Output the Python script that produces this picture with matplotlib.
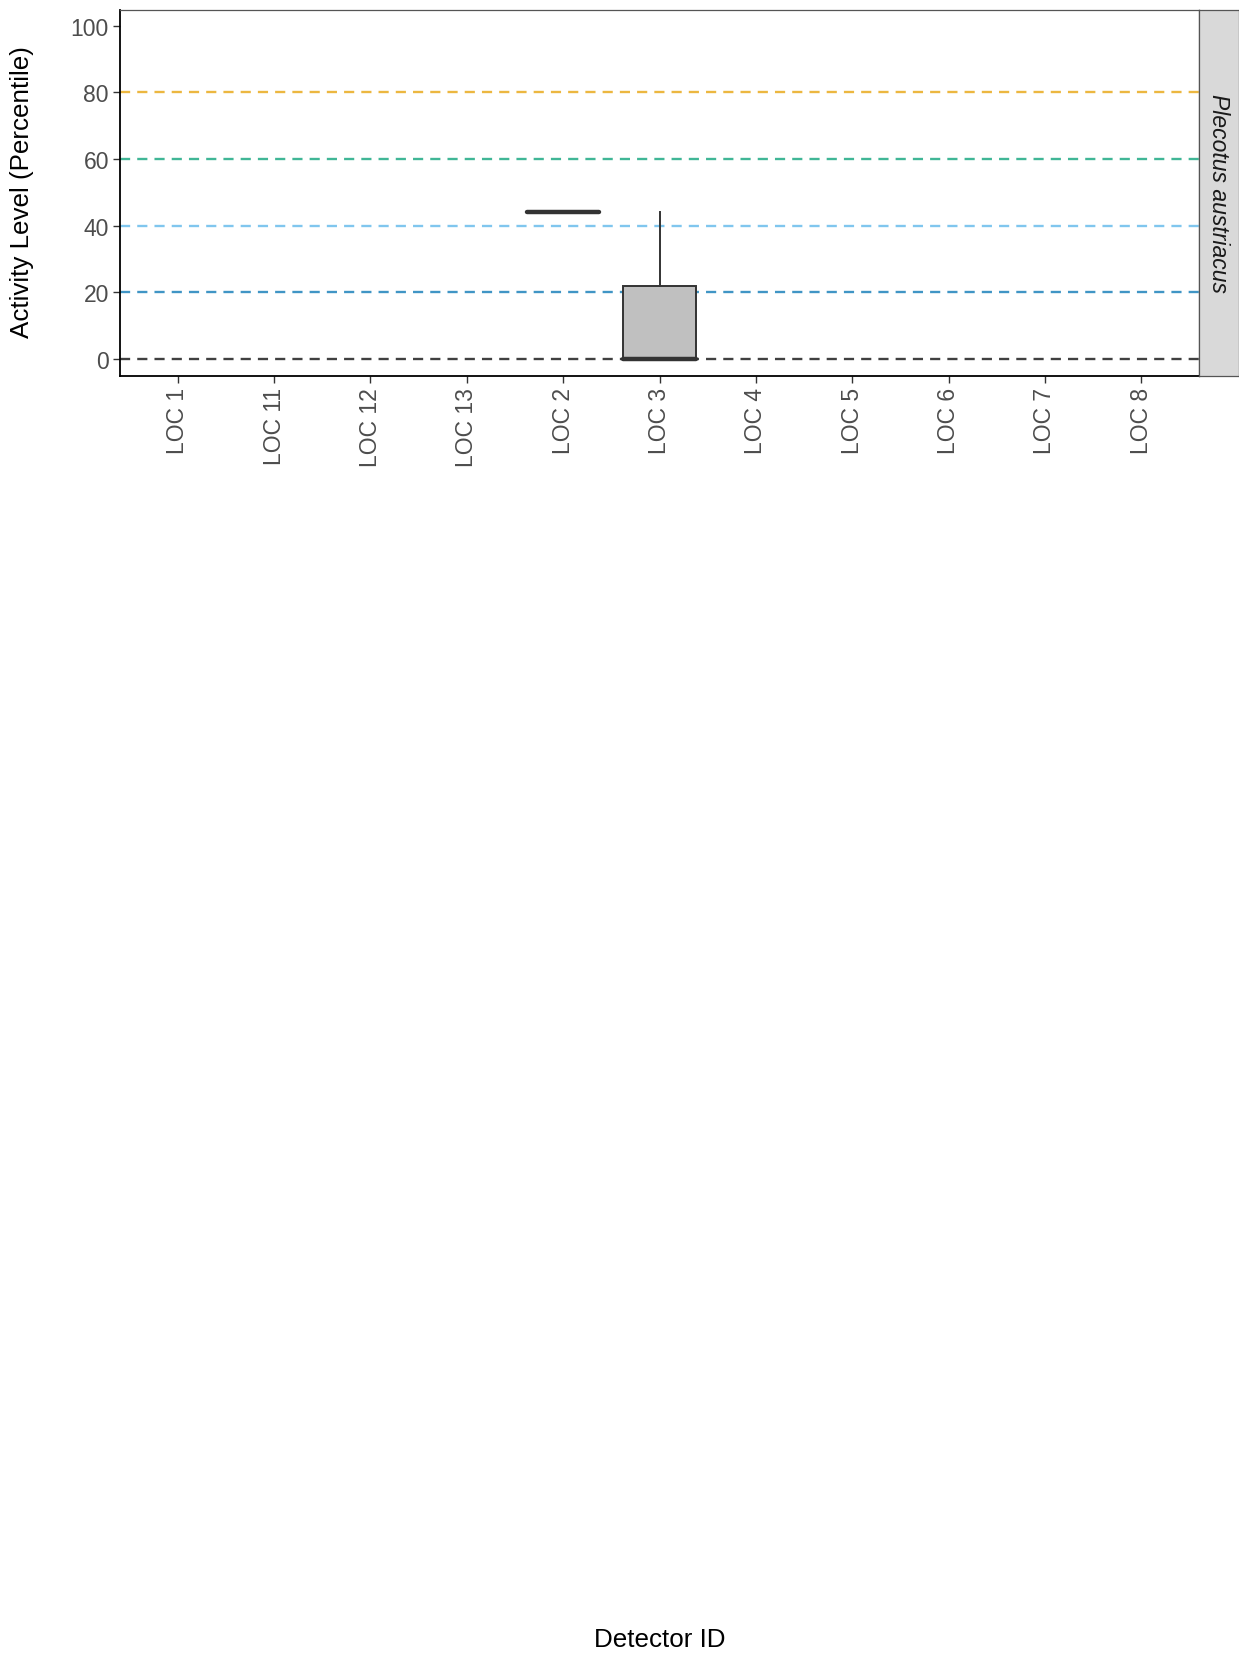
import numpy as np
import matplotlib
matplotlib.use('Agg')
import matplotlib.pyplot as plt

plt.rcParams['font.family'] = ['Liberation Sans', 'DejaVu Sans']

# data
detectors = ['LOC 1', 'LOC 11', 'LOC 12', 'LOC 13', 'LOC 2', 'LOC 3',
             'LOC 4', 'LOC 5', 'LOC 6', 'LOC 7', 'LOC 8']
box_locs = ['LOC 2', 'LOC 3']
box_q1 = [44, 0]
box_med = [44, 0]
box_q3 = [44, 22]
box_whislo = [44, 0]
box_whishi = [44, 44]

ref_levels = [0, 20, 40, 60, 80]
ref_colors = ['#000000', '#0072B2', '#56B4E9', '#009E73', '#E69F00']
species = 'Plecotus austriacus'

W, H = 1239, 1656
fig = plt.figure(figsize=(W / 100, H / 100), dpi=100)
left, right, top, bottom = 120, 1199, 11, 377
ax = fig.add_axes([left / W, 1 - bottom / H, (right - left) / W, (bottom - top) / H])

x = np.arange(len(detectors))

# reference lines
for lvl, col in zip(ref_levels, ref_colors):
    ax.axhline(lvl, color=col, alpha=0.75, lw=1.7, dashes=(4.3, 3.0), zorder=1)

stats = []
pos = []
for i, loc in enumerate(box_locs):
    stats.append(dict(med=box_med[i], q1=box_q1[i], q3=box_q3[i],
                      whislo=box_whislo[i], whishi=box_whishi[i], fliers=[]))
    pos.append(detectors.index(loc))

ax.bxp(stats, positions=pos, widths=0.75, patch_artist=True, showcaps=False,
       boxprops=dict(facecolor='#C0C0C0', edgecolor='#333333', linewidth=1.4),
       medianprops=dict(color='#333333', linewidth=3.2, solid_capstyle='round'),
       whiskerprops=dict(color='#333333', linewidth=1.4), manage_ticks=False,
       zorder=2)

ax.set_xlim(-0.6, len(detectors) - 0.4)
ax.set_ylim(-5.1, 104.7)
ax.set_xticks(x)
ax.set_xticklabels(detectors, rotation=90, va='top', ha='center')
ax.set_yticks([0, 20, 40, 60, 80, 100])
ax.tick_params(axis='both', colors='#333333', length=5, width=1.0,
               labelsize=16.5, labelcolor='#4D4D4D', pad=3)

for s in ['left', 'bottom']:
    ax.spines[s].set_color('black')
    ax.spines[s].set_linewidth(1.3)
for s in ['top', 'right']:
    ax.spines[s].set_color('#555555')
    ax.spines[s].set_linewidth(0.9)

# facet strip
sax = fig.add_axes([right / W, 1 - bottom / H, (W - right) / W, (bottom - top) / H])
sax.set_xticks([])
sax.set_yticks([])
sax.set_facecolor('#D9D9D9')
for s in sax.spines.values():
    s.set_color('#555555')
    s.set_linewidth(0.9)
sax.text(0.5, 0.5, species, rotation=-90, style='italic', fontsize=16.5,
         color='#1A1A1A', ha='center', va='center', transform=sax.transAxes)

fig.text(22 / W, 1 - 192 / H, 'Activity Level (Percentile)',
         rotation=90, fontsize=18.7, ha='center', va='center', color='black')
fig.text((left + right) / 2 / W, 1 - 1640 / H, 'Detector ID',
         fontsize=18.7, ha='center', va='center', color='black')

fig.savefig('out.png', dpi=100, facecolor='white')
